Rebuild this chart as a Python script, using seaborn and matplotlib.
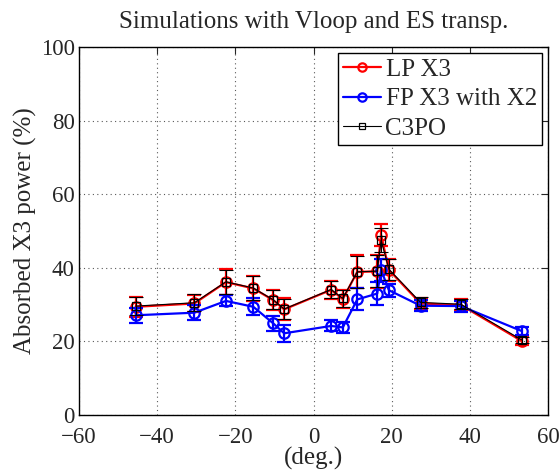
import matplotlib
matplotlib.use("Agg")
import matplotlib.pyplot as plt
import seaborn as sns
import pandas as pd
import numpy as np

# ---- data ----
angles = [-45.5, -30.5, -22.4, -15.4, -10.3, -7.5, 4.5, 7.5, 11.2, 16.3, 17.3, 19.3, 27.4, 37.7, 53.3]
lp_x3 = [29.4, 30.3, 36.1, 34.4, 31.2, 28.7, 34.0, 31.5, 38.9, 39.0, 48.9, 39.4, 30.3, 29.9, 20.1]
lp_err = [2.7, 2.4, 3.5, 3.3, 2.7, 3.0, 2.5, 2.5, 4.5, 4.5, 3.0, 3.0, 1.5, 1.5, 1.0]
fp_x3 = [27.1, 27.8, 31.0, 29.4, 24.9, 22.2, 24.2, 23.8, 31.4, 33.0, 39.4, 33.9, 29.7, 29.6, 22.8]
fp_err = [2.0, 2.0, 1.5, 2.3, 2.0, 2.3, 1.5, 1.5, 3.0, 3.2, 3.0, 1.8, 1.5, 1.5, 1.0]
c3po = [29.6, 30.5, 36.2, 34.5, 31.3, 28.8, 34.1, 31.7, 38.9, 39.1, 47.5, 39.6, 30.6, 30.1, 20.4]
c3po_err = [2.5, 2.3, 3.3, 3.2, 2.6, 2.8, 2.3, 2.4, 4.3, 4.3, 3.3, 2.8, 1.4, 1.4, 0.9]

series_names = ["LP X3", "FP X3 with X2", "C3PO"]
title = "Simulations with Vloop and ES transp."
xlabel = "(deg.)"
ylabel = "Absorbed X3 power (%)"
xticks = [-60, -40, -20, 0, 20, 40, 60]
yticks = [0, 20, 40, 60, 80, 100]

sns.set_style("white")
plt.rcParams['font.family'] = ['Liberation Serif', 'DejaVu Serif']

fig = plt.figure(figsize=(5.6, 4.71), dpi=100)
ax = fig.add_axes([79/560, 1-415/471, (548-79)/560, (415-47)/471])

df = pd.DataFrame({
    "angle": angles * 3,
    "value": lp_x3 + fp_x3 + c3po,
    "err": lp_err + fp_err + c3po_err,
    "series": [series_names[0]] * len(angles) + [series_names[1]] * len(angles) + [series_names[2]] * len(angles),
})

styles = {
    "LP X3": dict(color="red", lw=1.6, marker="o", ms=7.5, mew=1.6),
    "FP X3 with X2": dict(color="blue", lw=1.6, marker="o", ms=7.5, mew=1.6),
    "C3PO": dict(color="black", lw=0.8, marker="s", ms=6, mew=0.9),
}

for i, name in enumerate(series_names):
    sub = df[df.series == name]
    st = styles[name]
    ax.errorbar(sub.angle, sub.value, yerr=sub.err, fmt="none", ecolor=st["color"],
                elinewidth=st["lw"], capsize=5, capthick=st["lw"], zorder=2 + i)
    sns.lineplot(data=sub, x="angle", y="value", ax=ax, color=st["color"], lw=st["lw"],
                 marker=st["marker"], markersize=st["ms"], markerfacecolor="none",
                 markeredgecolor=st["color"], markeredgewidth=st["mew"],
                 label=name, zorder=2 + i, sort=False, estimator=None)

ax.set_xlim(-60, 60)
ax.set_ylim(0, 100)
ax.set_xticks(xticks)
ax.set_yticks(yticks)
ax.set_xticklabels([("\u2212" + str(abs(v))) if v < 0 else str(v) for v in xticks])
ax.tick_params(direction="in", top=True, right=True, labelsize=16.5, length=5, width=0.8)
ax.tick_params(axis="x", pad=8.3)
ax.tick_params(axis="y", pad=3)
ax.grid(True, linestyle=(0, (1, 3)), color="0.35", lw=0.8)
for s in ax.spines.values():
    s.set_linewidth(1.0)
    s.set_color("black")

ax.set_title(title, fontsize=18, pad=13.5)
ax.set_xlabel(xlabel, fontsize=18, labelpad=-0.3)
ax.set_ylabel(ylabel, fontsize=18, labelpad=3)

leg = ax.legend(loc="upper right", fontsize=18, frameon=True, fancybox=False,
                edgecolor="black", framealpha=1, borderpad=0.2, handlelength=1.5,
                handletextpad=0.2, labelspacing=0.28, borderaxespad=0.25,
                markerscale=0.8)
leg.get_frame().set_linewidth(1.0)

fig.savefig("out.png", dpi=100)
